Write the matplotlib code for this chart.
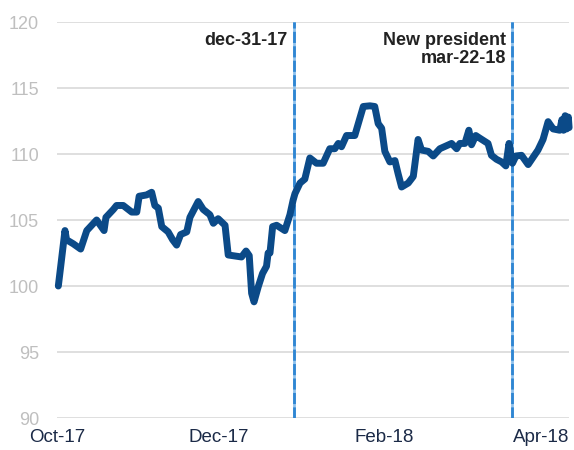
import pandas as pd
import matplotlib
matplotlib.use("Agg")
import matplotlib.pyplot as plt

plt.rcParams['font.family'] = ['Liberation Sans', 'DejaVu Sans']

# days since 2017-10-01 and index level
days = [0.5, 1.4, 3.0, 3.6, 6.1, 8.9, 11.2, 14.9, 17.7, 18.4,
        21.2, 22.4, 24.9, 28.1, 30.0, 30.9, 33.7, 35.6, 36.8, 38.1,
        39.4, 41.8, 43.5, 45.0, 46.5, 48.8, 50.0, 53.1, 55.0, 57.5,
        58.8, 60.6, 63.2, 64.4, 69.4, 71.1, 72.3, 73.2, 74.1, 75.7,
        77.3, 78.8, 79.4, 80.1, 81.1, 82.6, 85.7, 87.6, 88.8, 89.5,
        91.4, 93.2, 95.1, 97.6, 100.1, 102.6, 104.5, 105.8, 107.0, 108.9,
        112.0, 115.2, 117.7, 119.5, 120.8, 122.1, 123.3, 125.2, 127.1, 128.3,
        129.6, 132.1, 134.0, 135.8, 137.1, 139.6, 141.5, 144.0, 148.4, 150.3,
        151.5, 153.4, 154.9, 155.9, 157.5, 159.0, 162.1, 163.4, 165.3, 167.2,
        168.8, 170.0, 171.3, 172.6, 174.7, 177.2, 180.9, 182.8, 184.7, 186.6,
        189.1, 189.9, 190.5, 191.1, 191.7, 192.3, 192.6]
values = [100.0, 101.5, 104.2, 103.5, 103.2, 102.8, 104.2, 105.0, 104.2, 105.2,
          105.8, 106.1, 106.1, 105.6, 105.6, 106.8, 106.9, 107.1, 106.1, 105.9,
          104.5, 104.1, 103.5, 103.1, 103.9, 104.1, 105.2, 106.4, 105.8, 105.4,
          104.75, 105.1, 104.6, 102.35, 102.2, 102.65, 102.3, 99.45, 98.8, 99.95,
          100.95, 101.5, 102.5, 102.5, 104.5, 104.6, 104.2, 105.4, 106.5, 107.0,
          107.8, 108.1, 109.7, 109.3, 109.3, 110.4, 110.4, 110.8, 110.55, 111.4,
          111.4, 113.6, 113.65, 113.6, 112.3, 111.95, 110.2, 109.4, 109.5, 108.5,
          107.5, 107.8, 108.3, 111.1, 110.3, 110.2, 109.85, 110.4, 110.8, 110.4,
          110.8, 110.8, 111.8, 110.7, 111.4, 111.2, 110.8, 109.9, 109.6, 109.4,
          109.1, 110.8, 109.3, 109.85, 109.9, 109.2, 110.3, 111.1, 112.45, 111.9,
          111.8, 112.6, 111.8, 112.9, 111.9, 112.8, 112.0]

events = ['2017-12-29', '2018-03-21']
event_labels = ['dec-31-17', 'New president\nmar-22-18']

tick_dates = ['2017-10-01', '2017-12-01', '2018-02-01', '2018-04-01']
tick_labels = ['Oct-17', 'Dec-17', 'Feb-18', 'Apr-18']

base = pd.Timestamp('2017-10-01')
dates = base + pd.to_timedelta(days, unit='D')

fig = plt.figure(figsize=(5.74, 4.5), dpi=100)
ax = fig.add_axes([0.0993, 0.0711, 0.8917, 0.88])

ax.set_ylim(90, 120)
ax.set_yticks(range(90, 121, 5))
ax.set_xlim(base, base + pd.Timedelta(days=192.5))
ax.grid(axis='y', color='#d9d9d9', lw=1.2)
ax.set_axisbelow(True)
for s in ax.spines.values():
    s.set_visible(False)

for ev, lab in zip(events, event_labels):
    x = pd.Timestamp(ev)
    ax.axvline(x, color='#8cc0ec', lw=2.0, zorder=2)
    ax.axvline(x, color='#2f86d2', lw=2.0, ls=(0, (4, 1.2)), zorder=2)
    ax.text(x - pd.Timedelta(days=2.2), 119.25, lab, ha='right', va='top',
            fontsize=13, fontweight='bold', color='#222222', linespacing=1.1)

ax.plot(dates, values, color='#0b4a88', lw=5, solid_joinstyle='round',
        solid_capstyle='round', zorder=3, clip_on=False)

ax.set_xticks(pd.to_datetime(tick_dates))
ax.set_xticklabels(tick_labels)
ax.tick_params(axis='x', length=0, pad=8, labelsize=13.5, labelcolor='#1b2a47')
ax.tick_params(axis='y', length=0, pad=13, labelsize=13, labelcolor='#bfbfbf')

fig.savefig('out.png', dpi=100)
